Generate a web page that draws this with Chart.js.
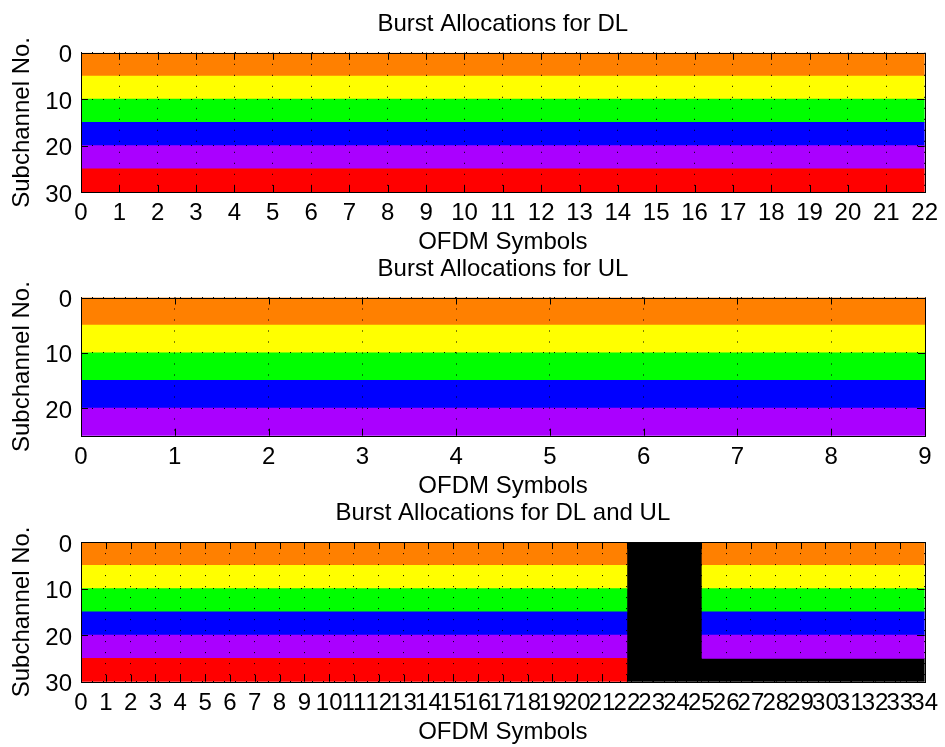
<!DOCTYPE html>
<html>
<head>
<meta charset="utf-8">
<script src="https://cdn.jsdelivr.net/npm/chart.js@4.4.1/dist/chart.umd.min.js"></script>
<style>
  html, body { margin: 0; padding: 0; background: #fff; }
  #fig { position: relative; width: 945px; height: 747px; overflow: hidden; }
  #fig canvas { position: absolute; left: 0; }
</style>
</head>
<body>
<div id="fig">
  <canvas id="dl" width="945" height="257" style="top:0px"></canvas>
  <canvas id="ul" width="945" height="251" style="top:250px"></canvas>
  <canvas id="dlul" width="945" height="252" style="top:495px"></canvas>
</div>
<script>
// y tick labels (subchannel no.)
const dlTicks = [0, 10, 20, 30];
const ulTicks = [0, 10, 20];
// subchannel ranges of the bursts, same for every frame
const burstSubchannels = [[0, 5], [5, 10], [10, 15], [15, 20], [20, 25], [25, 30]];
const burstColors = ['#ff8000', '#ffff00', '#00ff00', '#0000ff', '#aa00ff', '#ff0000'];
const idleColor = '#000000';

// DL subframe
const dlSymbols = [0, 22];
const dlBursts = [0, 1, 2, 3, 4, 5];
const dlMaxSubchannel = 30;

// UL subframe
const ulSymbols = [0, 9];
const ulBursts = [0, 1, 2, 3, 4];
const ulMaxSubchannel = 25;

// whole frame: DL, gap, UL
const frameDlSymbols = [0, 22];
const frameGapSymbols = [22, 25];
const frameUlSymbols = [25, 34];
const frameGapBursts = [0, 1, 2, 3, 4, 5];
const frameUlBursts = [0, 1, 2, 3, 4];
const frameIdleBursts = [5];
const frameMaxSubchannel = 30;

Chart.defaults.font.family = "'Liberation Sans', Arial, sans-serif";
Chart.defaults.font.size = 24;
Chart.defaults.color = '#000';

// MATLAB style box + inward ticks
const boxTicks = {
    id: 'boxTicks',
    afterDraw(chart) {
        const {ctx, chartArea: a, scales: {x, y}} = chart;
        const len = 7;
        ctx.save();
        ctx.strokeStyle = '#000';
        ctx.lineWidth = 1;
        ctx.beginPath();
        x.ticks.forEach(t => {
            const px = Math.round(x.getPixelForValue(t.value)) + 0.5;
            ctx.moveTo(px, a.top); ctx.lineTo(px, a.top + len);
            ctx.moveTo(px, a.bottom); ctx.lineTo(px, a.bottom - len);
        });
        y.ticks.forEach(t => {
            const py = Math.round(y.getPixelForValue(t.value)) + 0.5;
            ctx.moveTo(a.left, py); ctx.lineTo(a.left + len, py);
            ctx.moveTo(a.right, py); ctx.lineTo(a.right - len, py);
        });
        ctx.stroke();
        ctx.strokeRect(Math.round(a.left) + 0.5, Math.round(a.top) + 0.5,
            Math.round(a.right - a.left), Math.round(a.bottom - a.top));
        ctx.restore();
    }
};

const bandMid = b => (burstSubchannels[b][0] + burstSubchannels[b][1]) / 2;

const bursts = (list, symbols, colors) => ({
    data: list.map(b => ({x: symbols, y: bandMid(b)})),
    backgroundColor: colors || list.map(b => burstColors[b]),
    borderWidth: 0,
    grouped: false,
    barPercentage: 1,
    categoryPercentage: 1
});

function makePanel(id, title, xMax, yMax, yTicks, datasets, padTop, xAxisHeight, padRight) {
    new Chart(document.getElementById(id), {
        type: 'bar',
        data: { datasets: datasets },
        options: {
            indexAxis: 'y',
            responsive: false,
            animation: false,
            layout: { padding: { top: padTop, left: 0, right: padRight, bottom: 0 } },
            plugins: {
                legend: { display: false },
                tooltip: { enabled: false },
                title: {
                    display: true,
                    text: title,
                    fullSize: false,
                    font: { size: 24, weight: 'normal', lineHeight: 1.2 },
                    padding: { top: 0, bottom: 14 }
                }
            },
            scales: {
                x: {
                    type: 'linear',
                    min: 0,
                    max: xMax,
                    offset: false,
                    grid: { color: '#000', lineWidth: 1, drawTicks: false, z: 1 },
                    border: { display: false, dash: [1, 10] },
                    ticks: { stepSize: 1, autoSkip: false, maxRotation: 0, minRotation: 0, padding: 7 },
                    title: { display: true, text: 'OFDM Symbols', padding: 0 },
                    afterFit: s => { s.height = xAxisHeight; }
                },
                y: {
                    type: 'linear',
                    reverse: true,
                    min: 0,
                    max: yMax,
                    offset: false,
                    grid: { color: '#000', lineWidth: 1, drawTicks: false, offset: false, z: 1 },
                    border: { display: false, dash: [1, 10] },
                    ticks: { padding: 9, labelOffset: 3 },
                    afterBuildTicks: s => { s.ticks = yTicks.map(v => ({value: v})); },
                    title: { display: true, text: 'Subchannel No.', padding: { top: 8, bottom: 0 } },
                    afterFit: s => { s.width = 81; }
                }
            }
        },
        plugins: [boxTicks]
    });
}

makePanel('dl', 'Burst Allocations for DL', dlSymbols[1], dlMaxSubchannel, dlTicks,
    [bursts(dlBursts, dlSymbols)], 10, 65, 20);

makePanel('ul', 'Burst Allocations for UL', ulSymbols[1], ulMaxSubchannel, ulTicks,
    [bursts(ulBursts, ulSymbols)], 4.7, 65.3, 20);

makePanel('dlul', 'Burst Allocations for DL and UL', frameUlSymbols[1], frameMaxSubchannel, dlTicks,
    [
        bursts(dlBursts, frameDlSymbols),
        bursts(frameGapBursts, frameGapSymbols, idleColor),
        bursts(frameUlBursts, frameUlSymbols),
        bursts(frameIdleBursts, frameUlSymbols, idleColor)
    ], 4.3, 65.3, 19);
</script>
</body>
</html>
